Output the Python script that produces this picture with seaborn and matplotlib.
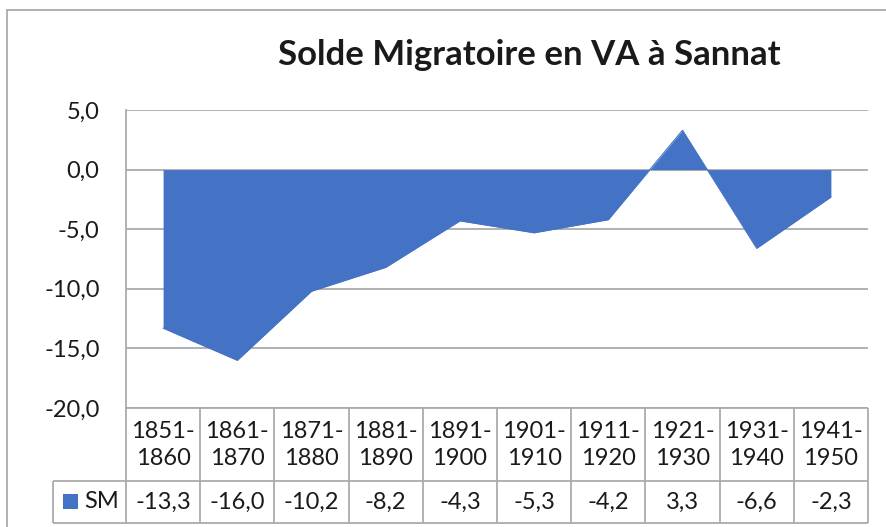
import numpy as np
import pandas as pd
import matplotlib
matplotlib.use("Agg")
import matplotlib.pyplot as plt
from matplotlib.patches import Rectangle
import seaborn as sns

# données
periods = ["1851-\n1860", "1861-\n1870", "1871-\n1880", "1881-\n1890", "1891-\n1900",
           "1901-\n1910", "1911-\n1920", "1921-\n1930", "1931-\n1940", "1941-\n1950"]
sm_values = [-13.3, -16.0, -10.2, -8.2, -4.3, -5.3, -4.2, 3.3, -6.6, -2.3]
series_name = "SM"
title = "Solde Migratoire en VA à Sannat"
y_ticks = [5, 0, -5, -10, -15, -20]

BLUE = "#4472C4"
GRID = "#ABABAB"
TXT = "#1A1A1A"
W, H = 886, 527


def box(x0, y0, x1, y1):
    # pixel box (top-left origin) -> figure fraction
    return [x0 / W, 1 - y1 / H, (x1 - x0) / W, (y1 - y0) / H]


def fr(v):
    return f"{v:.1f}".replace(".", ",")


sns.set_theme(style="white")
plt.rcParams["font.family"] = ["Lato", "DejaVu Sans"]

fig = plt.figure(figsize=(W / 100, H / 100), dpi=100)

# zone de tracé
ax = fig.add_axes(box(126, 110, 868, 408))
df = pd.DataFrame({"x": np.arange(len(periods)), "sm": sm_values})
ax.fill_between(df["x"], 0, df["sm"], color=BLUE, lw=0, zorder=3)
sns.lineplot(data=df, x="x", y="sm", color=BLUE, lw=0.8, ax=ax, zorder=3)
ax.set_xlim(-0.5, len(periods) - 0.5)
ax.set_ylim(min(y_ticks), max(y_ticks))
ax.set_yticks(y_ticks)
ax.set_yticklabels([fr(v) for v in y_ticks], fontsize=17, color=TXT)
ax.set_xticks([])
ax.set_xlabel("")
ax.set_ylabel("")
ax.yaxis.grid(True, color=GRID, lw=1.3)
ax.set_axisbelow(True)
ax.tick_params(axis="y", length=0, pad=19)
for s in ["top", "right", "bottom"]:
    ax.spines[s].set_visible(False)
ax.spines["left"].set_color(GRID)
ax.spines["left"].set_linewidth(1.3)

# tableau de données
col_px = 742 / len(periods)
x_left = -0.5 - 73 / col_px
tab = fig.add_axes(box(53, 408, 868, 523))
tab.set_xlim(x_left, len(periods) - 0.5)
tab.set_ylim(115, 0)
tab.axis("off")
edges = np.arange(len(periods) + 1) - 0.5
lk = dict(color=GRID, lw=1.3, clip_on=False)
tab.hlines(0, -0.5, edges[-1], **lk)
tab.hlines([73, 115], x_left, edges[-1], **lk)
tab.vlines(edges, 0, 115, **lk)
tab.vlines(x_left, 73, 115, **lk)
for i, (p, v) in enumerate(zip(periods, sm_values)):
    tab.text(i, 37, p, ha="center", va="center", fontsize=17, color=TXT, linespacing=1.3)
    tab.text(i, 94, fr(v), ha="center", va="center", fontsize=17, color=TXT)
tab.add_patch(Rectangle((x_left + 10 / col_px, 86), 15 / col_px, 15,
                        color=BLUE, lw=0, clip_on=False))
tab.text(x_left + 31 / col_px, 94, series_name, ha="left", va="center",
         fontsize=17, color=TXT)

# titre
fig.text(529 / W, 1 - 55 / H, title, ha="center", va="center",
         fontsize=25, weight="bold", color=TXT)

# cadre du graphique
fig.add_artist(Rectangle((7 / W, -0.05), 1.0, 1 - 10 / H + 0.05,
                         transform=fig.transFigure, fill=False, ec=GRID, lw=1.3))

fig.savefig("out.png", dpi=100)
